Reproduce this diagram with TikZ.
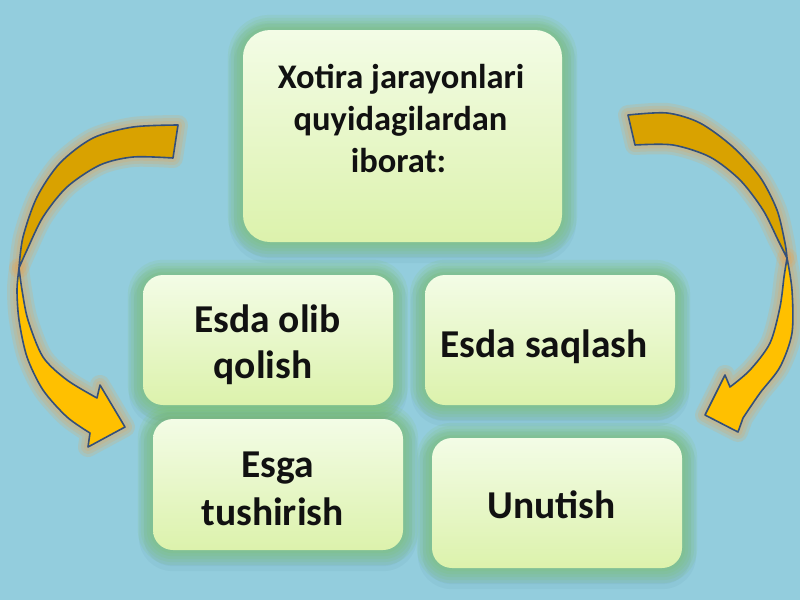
\documentclass[tikz,border=0pt]{standalone}
\usepackage{fontspec}
\setmainfont{Carlito}
\pgfdeclarelayer{bg}
\pgfdeclarelayer{glow}
\pgfsetlayers{bg,glow,main}
\definecolor{bgblue}{HTML}{93CDDD}
\definecolor{boxtop}{HTML}{F3FCE6}
\definecolor{boxbot}{HTML}{DCF2AC}
\definecolor{glowgreen}{HTML}{7AC04E}
\definecolor{shadowc}{HTML}{4A7A90}
\definecolor{arrowdark}{HTML}{D9A200}
\definecolor{arrowlight}{HTML}{FFC000}
\definecolor{arrowline}{HTML}{34507A}
\definecolor{arrowglow}{HTML}{F2A040}
\definecolor{txtc}{HTML}{111111}
\begin{document}
\begin{tikzpicture}[x=1pt,y=-1pt,
  box/.style={rectangle, rounded corners=20pt, top color=boxtop, bottom color=boxbot, draw=none, inner sep=0pt},
  txt/.style={anchor=base, font=\fontsize{39.5pt}{46pt}\selectfont\bfseries, text=txtc, inner sep=0pt},
  toptxt/.style={anchor=base, font=\fontsize{34.5pt}{42pt}\selectfont\bfseries, text=txtc, inner sep=0pt},
  arrowedge/.style={draw=arrowline, line width=1.6pt, line join=round},
]
\useasboundingbox (0,0) rectangle (800,600);
\begin{pgfonlayer}{bg}
\fill[bgblue] (0,0) rectangle (800,600);
\end{pgfonlayer}

\def\LAup{plot[smooth] coordinates {(178,125) (133,127) (93,138) (60,163) (37,197) (23,237) (19,268)} -- plot[smooth] coordinates {(19,268) (27,250) (43,217) (67,187) (100,165) (133,157) (173,158)} -- cycle}
\def\LAlow{plot[smooth] coordinates {(19,268) (17,290) (19,320) (27,357) (43,390) (67,417) (90,433)} -- (88,447) -- (125,427) -- (100,385) -- plot[smooth] coordinates {(97,398) (67,380) (43,357) (28,320) (22,290) (19,268)} -- cycle}
\def\RAup{plot[smooth] coordinates {(628,115) (667,113) (700,123) (733,147) (760,177) (777,210) (785,243) (787,258)} -- plot[smooth] coordinates {(787,258) (778,240) (763,210) (740,180) (710,157) (673,145) (635,145)} -- cycle}
\def\RAlow{plot[smooth] coordinates {(787,258) (792,290) (792,333) (780,367) (760,393) (743,418)} -- (738,432) -- (705,415) -- (725,375) -- plot[smooth] coordinates {(730,387) (750,370) (770,343) (780,307) (784,277) (787,258)} -- cycle}

% arrows
\path[fill=arrowdark, arrowedge] \LAup;
\path[fill=arrowlight, arrowedge] \LAlow;
\path[fill=arrowdark, arrowedge] \RAup;
\path[fill=arrowlight, arrowedge] \RAlow;

% boxes
\node[box, minimum width=319pt, minimum height=212pt, rounded corners=27pt] (top) at (402.5,136) {};
\node[box, minimum width=250pt, minimum height=130pt] (b1) at (268,340) {};
\node[box, minimum width=250pt, minimum height=130pt] (b2) at (550,340) {};
\node[box, minimum width=250pt, minimum height=131pt] (b3) at (278,484.5) {};
\node[box, minimum width=250pt, minimum height=130pt] (b4) at (557,503) {};

\begin{pgfonlayer}{glow}
\foreach \w in {20,14,8}{
  \draw[arrowglow, draw opacity=0.17, line width=\w pt, line join=round] \LAup;
  \draw[arrowglow, draw opacity=0.17, line width=\w pt, line join=round] \LAlow;
  \draw[arrowglow, draw opacity=0.17, line width=\w pt, line join=round] \RAup;
  \draw[arrowglow, draw opacity=0.17, line width=\w pt, line join=round] \RAlow;
}
\foreach \n/\r in {top/27,b1/20,b2/20,b3/20,b4/20}{
  \foreach \w in {28,18}{
    \draw[shadowc, draw opacity=0.07, line width=\w pt, rounded corners=\r pt] ([yshift=-7pt]\n.south west) rectangle ([yshift=-7pt]\n.north east);
  }
  \foreach \w in {30,24,18,12,6}{
    \draw[glowgreen, draw opacity=0.11, line width=\w pt, rounded corners=\r pt] (\n.south west) rectangle (\n.north east);
  }
}
\end{pgfonlayer}

% texts
\node[toptxt] (t1) at (401,88) {Xotira jarayonlari};
\node[toptxt] (t2) at (400.5,130) {quyidagilardan};
\node[toptxt] (t3) at (398.5,172) {iborat:};
\node[txt] (b1a) at (267.5,332) {Esda olib};
\node[txt] (b1b) at (263,378) {qolish};
\node[txt] (b2a) at (544,357) {Esda saqlash};
\node[txt] (b3a) at (277.5,477) {Esga};
\node[txt] (b3b) at (272.5,525) {tushirish};
\node[txt] (b4a) at (551.5,518) {Unutish};
\end{tikzpicture}
\end{document}
